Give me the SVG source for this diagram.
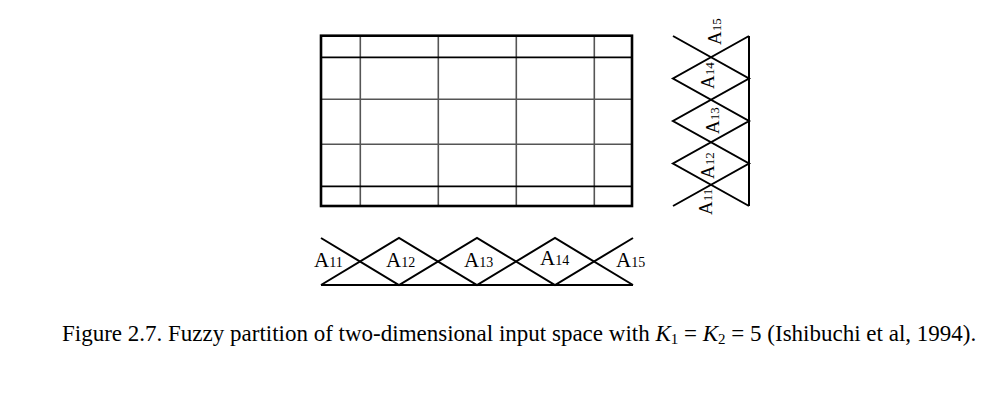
<svg xmlns="http://www.w3.org/2000/svg" width="993" height="400" viewBox="0 0 993 400">
<style>
.tri{fill:none;stroke:#000;stroke-width:2;stroke-linejoin:miter}
.gi{stroke:#555;stroke-width:1.6}
.gb{stroke:#000;stroke-width:1.8}
.lab{font-family:"Liberation Serif","Times New Roman",serif;fill:#000}
.cap{font-family:"Liberation Serif","Times New Roman",serif;font-size:23px;fill:#000}
</style>
<rect width="993" height="400" fill="#fff"/>
<g id="grid">
<line class="gi" x1="360.3" y1="36" x2="360.3" y2="206"/>
<line class="gi" x1="438.3" y1="36" x2="438.3" y2="206"/>
<line class="gi" x1="516.3" y1="36" x2="516.3" y2="206"/>
<line class="gi" x1="594.3" y1="36" x2="594.3" y2="206"/>
<line class="gb" x1="321" y1="57.3" x2="632" y2="57.3"/>
<line class="gi" x1="321" y1="99.3" x2="632" y2="99.3"/>
<line class="gi" x1="321" y1="144.3" x2="632" y2="144.3"/>
<line class="gb" x1="321" y1="186.3" x2="632" y2="186.3"/>
<rect x="321" y="35.7" width="311" height="170.3" fill="none" stroke="#000" stroke-width="2.6"/>
</g>
<g id="x1-partition">
<polyline class="tri" points="321,238 399,285 477,238 555,285 633,238"/>
<polyline class="tri" points="321,285 399,238 477,285 555,238 633,285"/>
<line class="tri" x1="321" y1="285" x2="633" y2="285"/>
<text class="lab" x="314" y="267" font-size="21">A<tspan font-size="14">11</tspan></text>
<text class="lab" x="386" y="267" font-size="21">A<tspan font-size="14">12</tspan></text>
<text class="lab" x="464" y="267" font-size="21">A<tspan font-size="14">13</tspan></text>
<text class="lab" x="540" y="265" font-size="21">A<tspan font-size="14">14</tspan></text>
<text class="lab" x="616" y="267" font-size="21">A<tspan font-size="14">15</tspan></text>
</g>
<g id="x2-partition">
<polyline class="tri" points="673,36 749,78.5 673,121 749,163.5 673,206"/>
<polyline class="tri" points="749,36 673,78.5 749,121 673,163.5 749,206"/>
<line class="tri" x1="749" y1="36" x2="749" y2="206"/>
<text class="lab" transform="translate(712,215) rotate(-90)" font-size="19">A<tspan font-size="13">11</tspan></text>
<text class="lab" transform="translate(714,179) rotate(-90)" font-size="19">A<tspan font-size="13">12</tspan></text>
<text class="lab" transform="translate(719,134) rotate(-90)" font-size="19">A<tspan font-size="13">13</tspan></text>
<text class="lab" transform="translate(714,89) rotate(-90)" font-size="19">A<tspan font-size="13">14</tspan></text>
<text class="lab" transform="translate(721,45) rotate(-90)" font-size="19">A<tspan font-size="13">15</tspan></text>
</g>
<g id="caption">
<text class="cap" x="62" y="341">Figure 2.7. Fuzzy partition of two-dimensional input space with <tspan font-style="italic">K</tspan><tspan font-size="15" dy="3">1</tspan><tspan dy="-3"> = </tspan><tspan font-style="italic">K</tspan><tspan font-size="15" dy="3">2</tspan><tspan dy="-3"> = 5 (Ishibuchi et al, 1994).</tspan></text>
</g>
</svg>
